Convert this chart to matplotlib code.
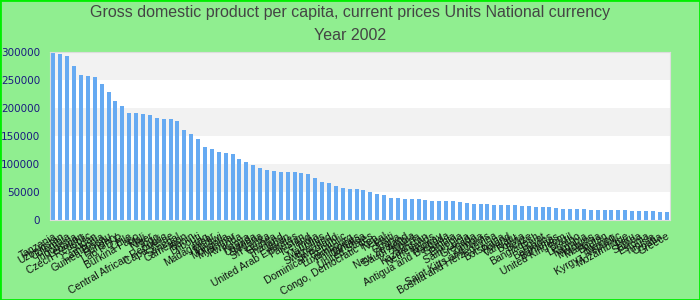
import matplotlib
matplotlib.use("Agg")
import matplotlib.pyplot as plt
from matplotlib.patches import Rectangle

# countries, sorted by value (labels are mostly unreadable in the source, best guesses)
countries = [
    "Tanzania", "Uzbekistan", "Colombia", "Indonesia", "Lebanon", "Czech Republic", "Sudan", "Cambodia", "Guinea-Bissau", "Hungary",
    "Lao P.D.R.", "Chile", "Burkina Faso", "Mali", "Niger", "Togo", "Central African Republic", "Cape Verde", "Senegal", "Cameroon",
    "Benin", "Djibouti", "Iraq", "Madagascar", "Malawi", "Mongolia", "Myanmar", "Rwanda", "Kenya", "Uganda",
    "Nigeria", "Sri Lanka", "Guinea", "Thailand", "Japan", "United Arab Emirates", "Pakistan", "Iceland", "India", "Mauritius",
    "Switzerland", "Swaziland", "Dominican Republic", "Luxembourg", "Philippines", "Jamaica", "United States", "Congo, Democratic Rep.", "Nepal", "Haiti",
    "Ghana", "New Zealand", "Saudi Arabia", "Algeria", "Kazakhstan", "Netherlands", "Norway", "Antigua and Barbuda", "Gambia", "Ethiopia",
    "Saint Lucia", "Grenada", "Zambia", "Saint Kitts and Nevis", "Bosnia and Herzegovina", "Botswana", "Poland", "Vanuatu", "Bolivia", "Belize",
    "Bangladesh", "Egypt", "Barbados", "Bahamas", "United Kingdom", "Brazil", "Lesotho", "Namibia", "Maldives", "Malaysia",
    "Bhutan", "Mexico", "Kyrgyz Republic", "Mozambique", "Peru", "Samoa", "Estonia", "Tunisia", "Croatia", "Greece",
]

gdp = [
    297600, 295800, 292200, 274400, 258400, 256600, 254800, 242400, 228100, 212100,
    203100, 190700, 190700, 188900, 187100, 181800, 180000, 180000, 176400, 160400,
    153300, 144300, 130100, 126500, 121200, 119400, 117600, 108700, 103400, 98000,
    92700, 89100, 87300, 85500, 85500, 85500, 83800, 82000, 74800, 67700,
    65900, 60600, 57000, 55200, 55200, 53500, 49900, 46300, 44600, 39200,
    39200, 37400, 37400, 37400, 35600, 33900, 33900, 33900, 33900, 32100,
    30300, 28500, 28500, 28500, 26700, 26700, 26700, 26700, 24900, 24900,
    23200, 23200, 23200, 21400, 19600, 19600, 19600, 19600, 17800, 17800,
    17800, 17800, 17800, 17800, 16000, 16000, 16000, 16000, 14300, 14300,
]

yticks = [0, 50000, 100000, 150000, 200000, 250000, 300000]

fig = plt.figure(figsize=(7, 3), dpi=100, facecolor="#90ee90")
ax = fig.add_axes([50/700, 80/300, 620/700, 168/300])
ax.set_facecolor("white")

# alternating bands
for i in range(len(yticks) - 1):
    if i % 2 == 1:
        ax.axhspan(yticks[i], yticks[i+1], color="#f2f2f2", zorder=0, lw=0)

x = list(range(len(countries)))
ax.bar(x, gdp, width=0.58, color="#66aaf2", zorder=2)

ax.set_xlim(-0.5, len(countries) - 0.5)
ax.set_ylim(0, 300000)
ax.set_yticks(yticks)
ax.set_yticklabels([str(v) for v in yticks], color="#1a1a80", fontsize=7.5)
ax.set_xticks(x)
ax.set_xticklabels(countries, rotation=30, ha="right", va="top",
                   rotation_mode="anchor", fontsize=7.5, family="Liberation Sans", color="#111111")
ax.tick_params(axis="both", length=0)
ax.tick_params(axis="y", pad=7)
ax.tick_params(axis="x", pad=8)
for s in ax.spines.values():
    s.set_color("#dddddd")

fig.text(0.5, 1 - 13/300, "Gross domestic product per capita, current prices Units National currency",
         ha="center", va="center", fontsize=11.5, color="#444444", family="Liberation Sans")
fig.text(0.5, 1 - 36/300, "Year 2002", ha="center", va="center", fontsize=11.5,
         color="#444444", family="Liberation Sans")

fig.patches.append(Rectangle((0, 0), 1, 1, transform=fig.transFigure, fill=False,
                             edgecolor="#00ee00", lw=2))

plt.savefig("out.png", dpi=100, facecolor=fig.get_facecolor())
